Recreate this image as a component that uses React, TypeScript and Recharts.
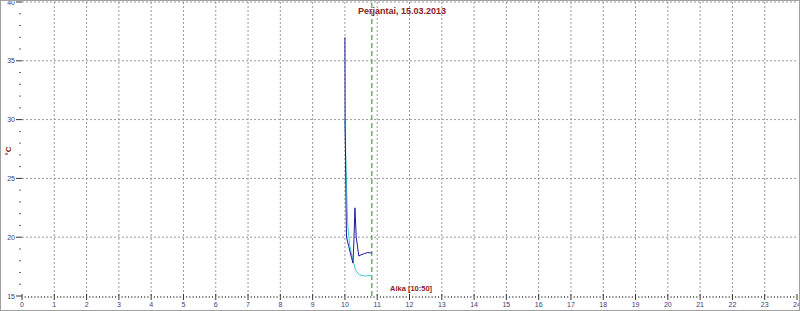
import React from "react";
import {
  LineChart,
  Line,
  XAxis,
  YAxis,
  ReferenceLine,
  Label,
} from "recharts";

// hours (x) and °C (y) for the two traces
const blueHours = [10.0, 10.003, 10.006, 10.01, 10.02, 10.035, 10.05, 10.12, 10.2, 10.25, 10.28, 10.31, 10.35, 10.43, 10.5, 10.6, 10.7, 10.83];
const blueTemps = [37.0, 34.0, 29.5, 29.0, 26.5, 22.5, 20.0, 19.2, 18.3, 17.8, 19.8, 22.5, 20.0, 18.4, 18.5, 18.6, 18.7, 18.65];

const cyanHours = [10.0, 10.03, 10.06, 10.09, 10.15, 10.25, 10.33, 10.45, 10.6, 10.83];
const cyanTemps = [30.0, 26.5, 23.5, 20.9, 19.3, 18.0, 17.2, 16.8, 16.7, 16.75];

const gridHours = [1, 2, 3, 4, 5, 6, 7, 8, 9, 10, 11, 12, 13, 14, 15, 16, 17, 18, 19, 20, 21, 22, 23];
const gridTemps = [20, 25, 30, 35, 40];
const nowHour = 10.833;

const title = "Perjantai, 15.03.2013";
const nowLabel = "Aika [10:50]";
const unitLabel = "°C";

// minor ticks every 6 min / 1 °C
const xTicks = Array.from({ length: 241 }, (_, i) => i / 10);
const yTicks = Array.from({ length: 26 }, (_, i) => 15 + i);

const blueData = blueHours.map((h, i) => ({ h, t: blueTemps[i] }));
const cyanData = cyanHours.map((h, i) => ({ h, t: cyanTemps[i] }));

const tickColor = "#3c3c78";
const darkRed = "#8b2323";

const HourTick = (props: any) => {
  const { x, y, payload } = props;
  const v = payload.value;
  const major = Math.abs(v - Math.round(v)) < 1e-6;
  return (
    <g>
      <line
        x1={x}
        x2={x}
        y1={major ? y - 2 : y}
        y2={major ? y + 4 : y + 2}
        stroke={major ? "#333" : "#666"}
      />
      {major && (
        <text x={x} y={y + 11} textAnchor="middle" fontSize={7} fill={tickColor}>
          {Math.round(v)}
        </text>
      )}
    </g>
  );
};

const TempTick = (props: any) => {
  const { x, y, payload } = props;
  const v = payload.value;
  const major = v % 5 === 0;
  return (
    <g>
      <line x1={major ? x - 6 : x - 3} x2={major ? x : x - 1} y1={y} y2={y} stroke={major ? "#333" : "#666"} />
      {major && (
        <text x={x - 7} y={y + 2.5} textAnchor="end" fontSize={7} fill={tickColor}>
          {v}
        </text>
      )}
    </g>
  );
};

export default function App() {
  return (
    <div
      style={{
        position: "absolute",
        left: 0,
        top: 0,
        width: 800,
        height: 311,
        background: "#fff",
        fontFamily: "'Liberation Sans', Arial, sans-serif",
      }}
    >
      <LineChart width={800} height={311} margin={{ top: 2, right: 3, left: 0, bottom: 0 }}>
        {gridHours.map((h) => (
          <ReferenceLine key={"v" + h} x={h} stroke="#9a9a9a" strokeDasharray="2 2" />
        ))}
        {gridTemps.map((t) => (
          <ReferenceLine key={"h" + t} y={t} stroke="#9a9a9a" strokeDasharray="2 2" />
        ))}
        <ReferenceLine x={nowHour} stroke="#5f9f5f" strokeWidth={1.3} strokeDasharray="5 3" />

        <XAxis
          dataKey="h"
          type="number"
          domain={[0, 24]}
          ticks={xTicks}
          interval={0}
          tick={<HourTick />}
          tickLine={false}
          tickSize={0}
          tickMargin={0}
          height={15}
          axisLine={false}
          allowDataOverflow
        />
        <YAxis
          dataKey="t"
          type="number"
          domain={[15, 40]}
          ticks={yTicks}
          interval={0}
          tick={<TempTick />}
          tickLine={false}
          tickSize={0}
          tickMargin={0}
          width={22}
          axisLine={false}
          allowDataOverflow
        >
          <Label
            value={unitLabel}
            angle={-90}
            position="center"
            dx={-3}
            dy={2}
            fill={darkRed}
            fontSize={8}
            fontWeight="bold"
          />
        </YAxis>

        <Line
          data={cyanData}
          dataKey="t"
          type="linear"
          stroke="#3cd2d2"
          strokeWidth={1}
          dot={false}
          isAnimationActive={false}
        />
        <Line
          data={blueData}
          dataKey="t"
          type="linear"
          stroke="#1c1c9a"
          strokeWidth={1}
          dot={false}
          isAnimationActive={false}
        />
      </LineChart>

      <div
        style={{
          position: "absolute",
          left: 358,
          top: 6,
          fontSize: 9,
          fontWeight: "bold",
          color: darkRed,
          whiteSpace: "nowrap",
          lineHeight: "11px",
        }}
      >
        {title}
      </div>
      <div
        style={{
          position: "absolute",
          left: 390,
          top: 284,
          fontSize: 7.5,
          fontWeight: "bold",
          color: darkRed,
          whiteSpace: "nowrap",
          lineHeight: "10px",
        }}
      >
        {nowLabel}
      </div>
      <div
        style={{
          position: "absolute",
          left: 0,
          top: 0,
          width: 800,
          height: 311,
          boxSizing: "border-box",
          border: "1px solid #a0a0a0",
          pointerEvents: "none",
        }}
      />
    </div>
  );
}
